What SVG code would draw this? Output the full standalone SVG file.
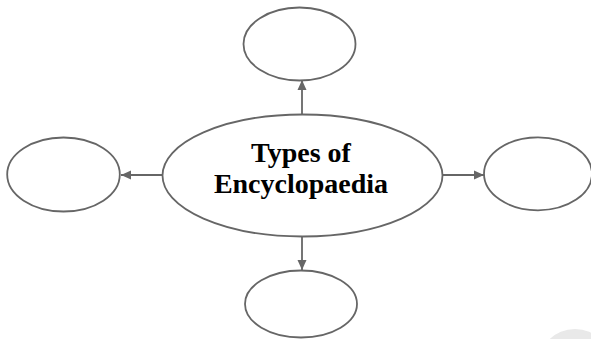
<svg xmlns="http://www.w3.org/2000/svg" width="591" height="339" viewBox="0 0 591 339">
<style>
.node{fill:#ffffff;stroke:#666666;stroke-width:1.8}
.conn{stroke:#666666;stroke-width:1.8;fill:none;marker-end:url(#arr)}
.lbl{font-family:"Liberation Serif","Times New Roman",serif;font-weight:bold;font-size:28px;fill:#000000;text-anchor:middle}
</style>
<defs>
<marker id="arr" markerUnits="userSpaceOnUse" markerWidth="12" markerHeight="12" viewBox="0 0 12 12" refX="11" refY="6" orient="auto">
<path d="M1,1.5 L11,6 L1,10.5 Z" fill="#666666"/>
</marker>
</defs>
<rect width="591" height="339" fill="#ffffff"/>
<circle cx="575" cy="366" r="37" fill="#e9e9e9"/>
<g id="connectors">
<line class="conn" x1="302" y1="114" x2="302" y2="80"/>
<line class="conn" x1="163" y1="175" x2="121" y2="175"/>
<line class="conn" x1="442" y1="175" x2="484" y2="175"/>
<line class="conn" x1="302" y1="237" x2="302" y2="270"/>
</g>
<g id="center">
<ellipse class="node" cx="302.5" cy="175.5" rx="140" ry="61"/>
<text class="lbl" x="301" y="162">Types of</text>
<text class="lbl" x="301" y="193">Encyclopaedia</text>
</g>
<g id="top"><ellipse class="node" cx="299.5" cy="44" rx="56" ry="36.5"/></g>
<g id="left"><ellipse class="node" cx="63.5" cy="174.5" rx="56.3" ry="37"/></g>
<g id="right"><ellipse class="node" cx="538" cy="173.8" rx="54" ry="36.5"/></g>
<g id="bottom"><ellipse class="node" cx="301" cy="304" rx="56" ry="33.5"/></g>
</svg>
